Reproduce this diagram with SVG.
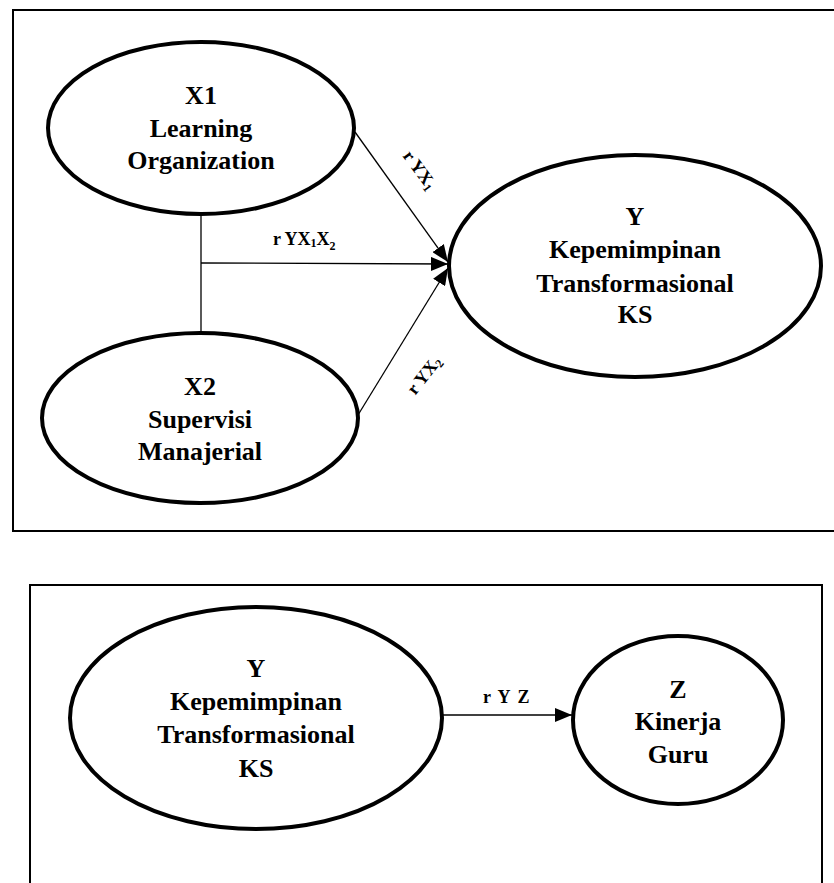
<svg xmlns="http://www.w3.org/2000/svg" width="834" height="883" viewBox="0 0 834 883">
<style>
.frame{fill:none;stroke:#000;stroke-width:2}
.node{fill:#fff;stroke:#000;stroke-width:4}
.t{font-size:26px;text-anchor:middle}
.lbl{font-size:18px}
.sub{font-size:12px}
.edge{fill:none;stroke:#000;stroke-width:1.3}
</style>
<defs>
<marker id="ah" markerUnits="userSpaceOnUse" markerWidth="18" markerHeight="14" refX="17" refY="7" orient="auto">
<path d="M0,0 L17,7 L0,14 z" fill="#000"/>
</marker>
</defs>
<rect class="frame" x="13" y="10" width="840" height="521"/>
<rect class="frame" x="30" y="585" width="792" height="320"/>
<g font-family="Liberation Serif, DejaVu Serif, serif" font-weight="bold" fill="#000">
<g id="connectors">
<line class="edge" x1="201" y1="215" x2="201" y2="334"/>
<line class="edge" x1="201" y1="263" x2="448" y2="264" marker-end="url(#ah)"/>
<line class="edge" x1="355" y1="132" x2="448" y2="262" marker-end="url(#ah)"/>
<line class="edge" x1="358" y1="415" x2="448" y2="268" marker-end="url(#ah)"/>
<line class="edge" x1="442" y1="715" x2="572" y2="715" marker-end="url(#ah)"/>
<text class="lbl" x="273" y="245">r YX<tspan class="sub" dy="2">1</tspan><tspan dy="-2">X</tspan><tspan class="sub" dy="5">2</tspan></text>
<text class="lbl" text-anchor="middle" transform="translate(420,170) rotate(53.5)" y="6">r YX<tspan class="sub" dy="3">1</tspan></text>
<text class="lbl" text-anchor="middle" transform="translate(424,375) rotate(-52)" y="6">r YX<tspan class="sub" dy="3">2</tspan></text>
<text class="lbl" x="507" y="703" text-anchor="middle" letter-spacing="1.5">r Y Z</text>
</g>
<g id="X1">
<ellipse class="node" cx="201" cy="128" rx="153" ry="86"/>
<text class="t" x="201" y="104">X1</text>
<text class="t" x="201" y="137">Learning</text>
<text class="t" x="201" y="169">Organization</text>
</g>
<g id="X2">
<ellipse class="node" cx="200" cy="418" rx="158" ry="85"/>
<text class="t" x="200" y="395">X2</text>
<text class="t" x="200" y="428">Supervisi</text>
<text class="t" x="200" y="460">Manajerial</text>
</g>
<g id="Y">
<ellipse class="node" cx="635" cy="266" rx="186" ry="111"/>
<text class="t" x="635" y="225">Y</text>
<text class="t" x="635" y="258">Kepemimpinan</text>
<text class="t" x="635" y="292">Transformasional</text>
<text class="t" x="635" y="323">KS</text>
</g>
<g id="Y2">
<ellipse class="node" cx="256" cy="718" rx="186" ry="111"/>
<text class="t" x="256" y="677">Y</text>
<text class="t" x="256" y="710">Kepemimpinan</text>
<text class="t" x="256" y="743">Transformasional</text>
<text class="t" x="256" y="777">KS</text>
</g>
<g id="Z">
<ellipse class="node" cx="678" cy="720" rx="105" ry="84"/>
<text class="t" x="678" y="698">Z</text>
<text class="t" x="678" y="730">Kinerja</text>
<text class="t" x="678" y="763">Guru</text>
</g>
</g>
</svg>
